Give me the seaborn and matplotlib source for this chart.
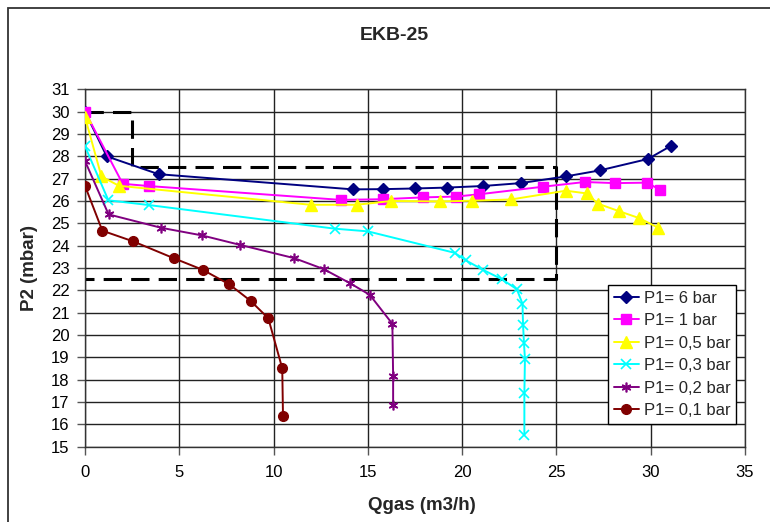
import matplotlib
matplotlib.use("Agg")
import matplotlib.pyplot as plt
from matplotlib.patches import Rectangle
import pandas as pd
import seaborn as sns

# P1 = 6 bar
Q_6 = [0.0, 1.15, 3.9, 14.2, 15.8, 17.5, 19.2, 21.1, 23.1, 25.5, 27.3, 29.85, 31.1]
P_6 = [30.0, 28.0, 27.2, 26.52, 26.53, 26.56, 26.6, 26.67, 26.8, 27.1, 27.37, 27.88, 28.48]

# P1 = 1 bar
Q_1 = [0.0, 2.0, 3.37, 13.55, 15.8, 17.9, 19.7, 20.9, 24.3, 26.5, 28.1, 29.8, 30.5]
P_1 = [30.0, 26.77, 26.67, 26.05, 26.08, 26.16, 26.2, 26.3, 26.64, 26.85, 26.8, 26.82, 26.5]

# P1 = 0,5 bar
Q_05 = [0.0, 0.87, 1.8, 11.96, 14.4, 16.25, 18.8, 20.5, 22.6, 25.5, 26.6, 27.2, 28.3, 29.4, 30.4]
P_05 = [29.76, 27.1, 26.68, 25.83, 25.83, 26.0, 25.98, 26.01, 26.07, 26.46, 26.34, 25.88, 25.55, 25.23, 24.8]

# P1 = 0,3 bar
Q_03 = [0.0, 1.24, 3.37, 13.25, 15.0, 19.6, 20.2, 21.1, 22.1, 22.9, 23.2, 23.23, 23.28, 23.33, 23.3, 23.3]
P_03 = [28.45, 26.03, 25.82, 24.76, 24.64, 23.68, 23.34, 22.92, 22.5, 22.05, 21.4, 20.45, 19.63, 18.93, 17.39, 15.54]

# P1 = 0,2 bar
Q_02 = [0.0, 1.25, 4.04, 6.2, 8.2, 11.1, 12.66, 14.05, 15.1, 16.3, 16.34, 16.34]
P_02 = [27.79, 25.4, 24.8, 24.46, 24.04, 23.44, 22.95, 22.32, 21.8, 20.5, 18.18, 16.88]

# P1 = 0,1 bar
Q_01 = [0.0, 0.92, 2.56, 4.7, 6.24, 7.65, 8.78, 9.72, 10.46, 10.5]
P_01 = [26.68, 24.67, 24.19, 23.44, 22.92, 22.27, 21.53, 20.75, 18.51, 16.36]

LABELS = ["P1= 6 bar", "P1= 1 bar", "P1= 0,5 bar", "P1= 0,3 bar", "P1= 0,2 bar", "P1= 0,1 bar"]
COLORS = ["#000080", "#FF00FF", "#FFFF00", "#00FFFF", "#800080", "#800000"]
MARKERS = ["D", "s", "^", "x", (6, 2, 0), "o"]
MSIZES = [6, 7, 8, 7, 7, 7]

# dashed working-range outline
BOX_X = [0, 2.5, 2.5, 25, 25, 0]
BOX_Y = [30, 30, 27.5, 27.5, 22.5, 22.5]

series = [(Q_6, P_6), (Q_1, P_1), (Q_05, P_05), (Q_03, P_03), (Q_02, P_02), (Q_01, P_01)]
frames = []
for lab, (q, p) in zip(LABELS, series):
    frames.append(pd.DataFrame({"Qgas": q, "P2": p, "series": lab}))
df = pd.concat(frames, ignore_index=True)

sns.set_theme(style="white")
plt.rcParams["font.family"] = ["Liberation Sans", "DejaVu Sans"]

fig = plt.figure(figsize=(7.7, 5.22), dpi=100)
ax = fig.add_axes([85 / 770, 1 - 446.7 / 522, 660 / 770, 357.4 / 522])

for lab, col, mk, ms in zip(LABELS, COLORS, MARKERS, MSIZES):
    sub = df[df["series"] == lab]
    filled = mk != "x" and not isinstance(mk, tuple)
    sns.lineplot(data=sub, x="Qgas", y="P2", sort=False, estimator=None,
                 color=col, marker=mk, markersize=ms, linewidth=1.4,
                 markeredgecolor=col, markerfacecolor=col if filled else "none",
                 markeredgewidth=1.0 if filled else 1.2,
                 label=lab, ax=ax, zorder=3)

ax.plot(BOX_X, BOX_Y, color="black", linewidth=2.2, dashes=(6, 3), zorder=2)

ax.set_xlim(0, 35)
ax.set_ylim(15, 31)
ax.set_xticks(range(0, 36, 5))
ax.set_yticks(range(15, 32))
ax.grid(True, color="#222222", linewidth=1.0)
for s in ax.spines.values():
    s.set_color("#333333")
    s.set_linewidth(1.0)
ax.tick_params(axis="both", direction="out", length=6, width=1, color="#555555",
               labelsize=12, labelcolor="black", left=True, bottom=True)
ax.tick_params(axis="y", pad=5)
ax.tick_params(axis="x", pad=7)

ax.set_xlabel("Qgas (m3/h)", fontsize=13.5, fontweight="bold")
ax.set_ylabel("P2 (mbar)", fontsize=13.5, fontweight="bold")
ax.xaxis.set_label_coords((422 - 85) / 660, (446.7 - 497) / 357.4)
ax.yaxis.set_label_coords((38 - 85) / 660, 0.5)

fig.text(394 / 770, 1 - 36 / 522, "EKB-25", fontsize=14, fontweight="bold",
         ha="center", va="center")

leg = ax.legend(loc="lower left", bbox_to_anchor=((608 - 85) / 660, (446.7 - 424) / 357.4),
                fontsize=12, frameon=True, fancybox=False, handlelength=1.5,
                handletextpad=0.3, labelspacing=0.45, borderpad=0.35,
                borderaxespad=0, framealpha=1)
leg.get_frame().set_edgecolor("black")
leg.get_frame().set_linewidth(1.0)
leg.set_zorder(5)

fig.patches.append(Rectangle((8 / 770, -0.1), 1.0, 1 - 8 / 522 + 0.1, transform=fig.transFigure,
                             fill=False, edgecolor="#333333", linewidth=1.3))

fig.savefig("out.png", dpi=100)
